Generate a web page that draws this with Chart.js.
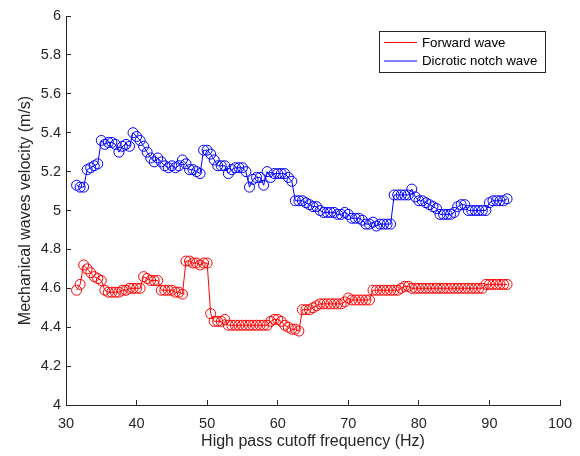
<!DOCTYPE html>
<html>
<head>
<meta charset="utf-8">
<script src="https://cdn.jsdelivr.net/npm/chart.js@4/dist/chart.umd.min.js"></script>
<style>
  body { margin: 0; background: #fff; }
  #wrap { width: 580px; height: 456px; position: relative; }
</style>
</head>
<body>
<div id="wrap"><canvas id="velChart"></canvas></div>
<script>
var freq = [31.5,32,32.5,33,33.5,34,34.5,35,35.5,36,
  36.5,37,37.5,38,38.5,39,39.5,40,40.5,41,
  41.5,42,42.5,43,43.5,44,44.5,45,45.5,46,
  46.5,47,47.5,48,48.5,49,49.5,50,50.5,51,
  51.5,52,52.5,53,53.5,54,54.5,55,55.5,56,
  56.5,57,57.5,58,58.5,59,59.5,60,60.5,61,
  61.5,62,62.5,63,63.5,64,64.5,65,65.5,66,
  66.5,67,67.5,68,68.5,69,69.5,70,70.5,71,
  71.5,72,72.5,73,73.5,74,74.5,75,75.5,76,
  76.5,77,77.5,78,78.5,79,79.5,80,80.5,81,
  81.5,82,82.5,83,83.5,84,84.5,85,85.5,86,
  86.5,87,87.5,88,88.5,89,89.5,90,90.5,91,
  91.5,92,92.5];

var forwardWave = [4.59,4.62,4.72,4.70,4.68,4.66,4.65,4.64,4.59,4.58,
  4.58,4.58,4.58,4.59,4.59,4.60,4.60,4.60,4.60,4.66,
  4.65,4.64,4.64,4.64,4.59,4.59,4.59,4.59,4.58,4.58,
  4.57,4.74,4.74,4.73,4.73,4.72,4.73,4.73,4.47,4.43,
  4.43,4.43,4.44,4.41,4.41,4.41,4.41,4.41,4.41,4.41,
  4.41,4.41,4.41,4.41,4.41,4.43,4.44,4.44,4.43,4.41,
  4.40,4.39,4.39,4.38,4.49,4.49,4.49,4.50,4.51,4.52,
  4.52,4.52,4.52,4.52,4.52,4.52,4.53,4.55,4.54,4.54,
  4.54,4.54,4.54,4.54,4.59,4.59,4.59,4.59,4.59,4.59,
  4.59,4.59,4.60,4.61,4.61,4.60,4.60,4.60,4.60,4.60,
  4.60,4.60,4.60,4.60,4.60,4.60,4.60,4.60,4.60,4.60,
  4.60,4.60,4.60,4.60,4.60,4.60,4.62,4.62,4.62,4.62,
  4.62,4.62,4.62];

var notchWave = [5.13,5.12,5.12,5.21,5.22,5.23,5.24,5.36,5.34,5.35,
  5.35,5.34,5.30,5.33,5.34,5.33,5.40,5.38,5.36,5.33,
  5.30,5.27,5.25,5.27,5.25,5.23,5.22,5.23,5.22,5.23,
  5.26,5.24,5.21,5.21,5.20,5.19,5.31,5.31,5.29,5.26,
  5.23,5.23,5.23,5.19,5.21,5.22,5.22,5.22,5.20,5.12,
  5.16,5.17,5.17,5.13,5.20,5.17,5.19,5.19,5.19,5.19,
  5.17,5.15,5.05,5.05,5.05,5.04,5.03,5.02,5.02,5.00,
  4.99,4.99,4.99,4.99,4.98,4.98,4.99,4.98,4.96,4.96,
  4.96,4.95,4.93,4.93,4.94,4.92,4.93,4.93,4.93,4.93,
  5.08,5.08,5.08,5.08,5.08,5.11,5.07,5.05,5.05,5.04,
  5.03,5.02,5.01,4.98,4.98,4.98,4.98,4.99,5.02,5.03,
  5.03,5.00,5.00,5.00,5.00,5.00,5.00,5.04,5.05,5.05,
  5.05,5.05,5.06];

var xTicks = [30, 40, 50, 60, 70, 80, 90, 100];
var yTicks = [4, 4.2, 4.4, 4.6, 4.8, 5, 5.2, 5.4, 5.6, 5.8, 6];
var seriesNames = ['Forward wave', 'Dicrotic notch wave'];
var seriesColors = ['rgb(255,0,0)', 'rgb(0,0,255)'];

var axisColor = '#262626';
var fontFam = '"Liberation Sans", Arial, sans-serif';

function pts(vals) {
  return freq.map(function(f, i) { return { x: f, y: vals[i] }; });
}

// MATLAB style boxed legend in the upper right
var boxLegend = {
  id: 'boxLegend',
  afterDraw: function(chart) {
    var c = chart.ctx;
    c.save();
    c.fillStyle = '#fff';
    c.strokeStyle = axisColor;
    c.lineWidth = 1;
    c.fillRect(379.5, 31.5, 166, 41);
    c.strokeRect(379.5, 31.5, 166, 41);
    c.font = '13.3px ' + fontFam;
    c.textBaseline = 'middle';
    var rows = [42.5, 61];
    for (var i = 0; i < seriesNames.length; i++) {
      c.strokeStyle = seriesColors[i];
      c.beginPath();
      c.moveTo(384, rows[i]);
      c.lineTo(417, rows[i]);
      c.stroke();
      c.fillStyle = '#000';
      c.fillText(seriesNames[i], 422, rows[i] + 0.5);
    }
    c.restore();
  }
};

var ctx = document.getElementById('velChart').getContext('2d');
var velChart = new Chart(ctx, {
  type: 'line',
  data: {
    datasets: [
      {
        label: seriesNames[0],
        data: pts(forwardWave),
        borderColor: seriesColors[0],
        backgroundColor: 'rgba(0,0,0,0)',
        borderWidth: 1,
        pointRadius: 5,
        pointBorderWidth: 1,
        pointBorderColor: seriesColors[0],
        pointBackgroundColor: 'rgba(0,0,0,0)',
        tension: 0
      },
      {
        label: seriesNames[1],
        data: pts(notchWave),
        borderColor: seriesColors[1],
        backgroundColor: 'rgba(0,0,0,0)',
        borderWidth: 1,
        pointRadius: 5,
        pointBorderWidth: 1,
        pointBorderColor: seriesColors[1],
        pointBackgroundColor: 'rgba(0,0,0,0)',
        tension: 0
      }
    ]
  },
  options: {
    responsive: true,
    maintainAspectRatio: false,
    animation: false,
    events: [],
    layout: { padding: { left: 0, right: 20, top: 16, bottom: 0 } },
    plugins: {
      legend: { display: false },
      tooltip: { enabled: false }
    },
    scales: {
      x: {
        type: 'linear',
        min: 30,
        max: 100,
        afterBuildTicks: function(scale) {
          scale.ticks = xTicks.map(function(v) { return { value: v }; });
        },
        afterFit: function(scale) {
          scale.height = 51;
          scale.paddingLeft = 0;
          scale.paddingRight = 0;
        },
        grid: {
          drawOnChartArea: false,
          drawTicks: true,
          tickLength: -5,
          color: axisColor
        },
        border: { display: true, color: axisColor, width: 1 },
        ticks: {
          color: axisColor,
          padding: 15,
          maxRotation: 0,
          font: { family: fontFam, size: 14.5 },
          callback: function(v) { return String(Math.round(v * 10) / 10); }
        },
        title: {
          display: true,
          text: 'High pass cutoff frequency (Hz)',
          color: axisColor,
          font: { family: fontFam, size: 16 },
          padding: { top: 0, bottom: 5 }
        }
      },
      y: {
        type: 'linear',
        min: 4,
        max: 6,
        afterBuildTicks: function(scale) {
          scale.ticks = yTicks.map(function(v) { return { value: v }; });
        },
        afterFit: function(scale) {
          scale.width = 66;
          scale.paddingTop = 0;
          scale.paddingBottom = 0;
        },
        grid: {
          drawOnChartArea: false,
          drawTicks: true,
          tickLength: -5,
          color: axisColor
        },
        border: { display: true, color: axisColor, width: 1 },
        ticks: {
          color: axisColor,
          padding: 10,
          font: { family: fontFam, size: 14.5 },
          callback: function(v) { return String(Math.round(v * 10) / 10); }
        },
        title: {
          display: true,
          text: 'Mechanical waves velocity (m/s)',
          color: axisColor,
          font: { family: fontFam, size: 16 },
          padding: { top: 16, bottom: 0 }
        }
      }
    }
  },
  plugins: [boxLegend]
});
</script>
</body>
</html>
